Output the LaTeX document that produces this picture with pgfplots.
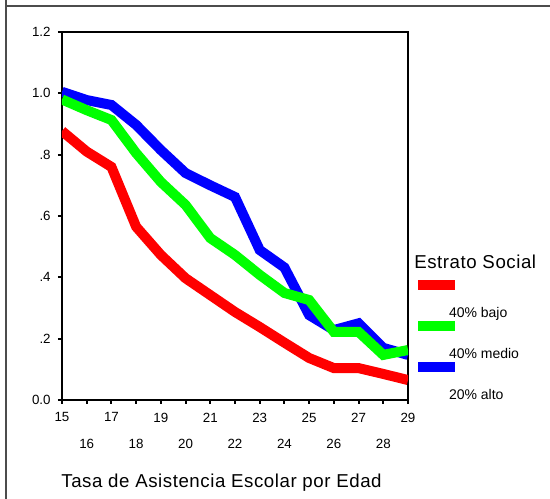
\documentclass[border=0pt]{standalone}
\usepackage{fontspec}
\setmainfont{Liberation Sans}
\usepackage{pgfplots}
\pgfplotsset{compat=1.18}

% Tasa de asistencia escolar por edad y estrato social
\pgfplotstableread{
edad bajo medio alto
15 0.877 0.980 1.005
16 0.810 0.945 0.978
17 0.760 0.913 0.962
18 0.565 0.805 0.897
19 0.473 0.711 0.815
20 0.397 0.636 0.740
21 0.342 0.528 0.700
22 0.287 0.473 0.662
23 0.238 0.408 0.489
24 0.187 0.349 0.432
25 0.137 0.326 0.277
26 0.104 0.222 0.228
27 0.104 0.222 0.250
28 0.085 0.147 0.170
29 0.065 0.163 0.147
}\datos

\begin{document}
\begin{tikzpicture}
\useasboundingbox (-46.5pt,-74.25pt) rectangle (366pt,300pt);
% marco exterior
\draw[line width=1pt, black!70] (-42pt,300pt) -- (-42pt,295.5pt) -- (366pt,295.5pt);
\draw[line width=1pt, black!70] (-42pt,295.5pt) -- (-42pt,-74.25pt);

\begin{axis}[
  at={(0pt,0pt)}, anchor=south west,
  scale only axis,
  width=259.5pt, height=276pt,
  xmin=15, xmax=29, ymin=0, ymax=1.2,
  axis line style={line width=1.2pt},
  tick align=outside,
  xtick pos=left, ytick pos=left,
  major tick length=3pt,
  tick style={line width=1.5pt, black},
  xtick={15,17,...,29},
  xticklabel style={yshift=-3pt},
  extra x ticks={16,18,...,28},
  extra x tick style={tick label style={yshift=-20pt}},
  ytick={0,0.2,0.4,0.6,0.8,1.0,1.2},
  yticklabels={0.0,.2,.4,.6,.8,1.0,1.2},
  yticklabel style={xshift=-2pt},
  tick label style={font=\fontsize{10}{12}\selectfont},
  /pgf/number format/assume math mode=true,
  xlabel={\addfontfeature{LetterSpace=3}Tasa de Asistencia Escolar por Edad},
  xlabel style={at={(rel axis cs:0.461,0)}, anchor=base, yshift=-66pt,
                font=\fontsize{14}{16}\selectfont},
  legend style={at={(axis description cs:1.0896,0.2545)}, anchor=north west,
                draw=none, fill=none, inner sep=0pt, outer sep=0pt,
                row sep=20.75pt, column sep=0pt,
                font=\fontsize{10.5}{12}\selectfont,
                nodes={inner sep=0pt, text height=8pt, text depth=2pt}},
  legend cell align=left,
  reverse legend,
  legend image code/.code={%
    \draw[#1, overlay] (-19.5pt,21pt) -- (8.25pt,21pt);
    \path (0pt,0pt);},
  every axis plot/.append style={line width=7.5pt},
]
\addplot[blue, no markers] table[x=edad, y=alto] {\datos};
\addlegendentry{20\% alto}
\addplot[green, no markers] table[x=edad, y=medio] {\datos};
\addlegendentry{40\% medio}
\addplot[red, no markers] table[x=edad, y=bajo] {\datos};
\addlegendentry{40\% bajo}
\end{axis}

\node[anchor=base west, inner sep=0pt, font=\fontsize{14}{16}\selectfont]
  at (264pt,98.25pt) {\addfontfeature{LetterSpace=3}Estrato Social};
\end{tikzpicture}
\end{document}
